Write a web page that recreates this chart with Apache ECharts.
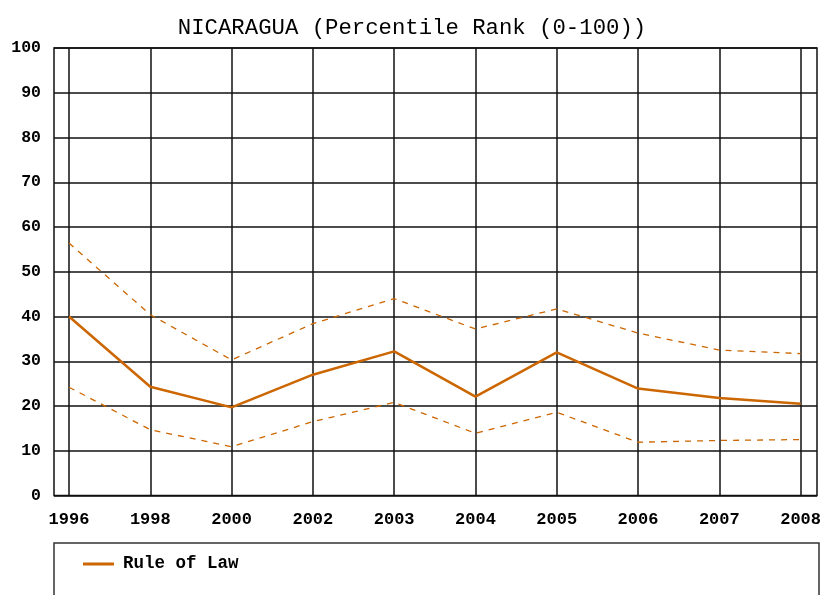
<!DOCTYPE html>
<html>
<head>
<meta charset="utf-8">
<script src="https://cdn.jsdelivr.net/npm/echarts@6/dist/echarts.min.js"></script>
<style>html,body{margin:0;padding:0;background:#fff;}#c{width:824px;height:595px;}</style>
</head>
<body>
<div id="c"></div>
<script>
const titleText = 'NICARAGUA (Percentile Rank (0-100))';
const years = ['1996','1998','2000','2002','2003','2004','2005','2006','2007','2008'];
const ruleOfLaw = [40, 24.3, 19.7, 27.0, 32.2, 22.1, 32.0, 23.9, 21.8, 20.5];
const upperBound = [56.4, 40.4, 30.3, 38.4, 44.0, 37.2, 41.7, 36.3, 32.5, 31.7];
const lowerBound = [24.2, 14.7, 10.9, 16.5, 20.8, 13.9, 18.6, 11.9, 12.3, 12.5];
const seriesName = 'Rule of Law';

const orange = '#CC6600';
const gridColor = '#111';
const mono = '"Liberation Mono", "DejaVu Sans Mono", monospace';

const chart = echarts.init(document.getElementById('c'));
chart.setOption({
  animation: false,
  backgroundColor: '#fff',
  title: {
    text: titleText, left: 'center', top: 12,
    textStyle: { fontFamily: mono, fontSize: 22.3, fontWeight: 'normal', color: '#000' }
  },
  grid: [
    { left: 69, right: 22, top: 48, bottom: 99.5, show: false },
    { left: 54, right: 7, top: 48, bottom: 99.5, show: true, borderColor: gridColor, borderWidth: 1.5, z: 0 }
  ],
  xAxis: [
    {
      gridIndex: 0, type: 'category', data: years, boundaryGap: false,
      axisLine: { show: false }, axisTick: { show: false },
      splitLine: { show: true, lineStyle: { color: gridColor, width: 1.5 } },
      axisLabel: { margin: 16, fontFamily: mono, fontSize: 17, fontWeight: 'bold', color: '#000' }
    },
    { gridIndex: 1, type: 'value', min: 0, max: 1, show: false }
  ],
  yAxis: [
    { gridIndex: 0, type: 'value', min: 0, max: 100, show: false },
    {
      gridIndex: 1, type: 'value', min: 0, max: 100, interval: 10,
      axisLine: { show: false }, axisTick: { show: false },
      splitLine: { show: true, lineStyle: { color: gridColor, width: 1.5 } },
      axisLabel: { margin: 13, fontFamily: mono, fontSize: 16.5, fontWeight: 'bold', color: '#000' }
    }
  ],
  legend: {
    data: [seriesName], left: 78, top: 550, icon: 'rect', itemWidth: 31, itemHeight: 3, itemGap: 10,
    formatter: '{a|{name}}',
    textStyle: {
      fontFamily: mono, fontSize: 17.5, fontWeight: 'bold', color: '#000',
      rich: { a: { fontFamily: mono, fontSize: 17.5, fontWeight: 'bold', color: '#000', padding: [0, 0, 0, 4] } }
    }
  },
  graphic: [
    { type: 'rect', shape: { x: 54, y: 543, width: 765, height: 60 },
      style: { fill: 'none', stroke: '#333', lineWidth: 1.5 }, z: -1 }
  ],
  series: [
    { name: seriesName, type: 'line', xAxisIndex: 0, yAxisIndex: 0, data: ruleOfLaw, symbol: 'none',
      lineStyle: { color: orange, width: 2.5 }, itemStyle: { color: orange }, z: 5 },
    { name: 'upper', type: 'line', xAxisIndex: 0, yAxisIndex: 0, data: upperBound, symbol: 'none',
      lineStyle: { color: orange, width: 1.3, type: [6, 6] }, itemStyle: { color: orange }, z: 4 },
    { name: 'lower', type: 'line', xAxisIndex: 0, yAxisIndex: 0, data: lowerBound, symbol: 'none',
      lineStyle: { color: orange, width: 1.3, type: [6, 6] }, itemStyle: { color: orange }, z: 4 }
  ]
});
</script>
</body>
</html>
